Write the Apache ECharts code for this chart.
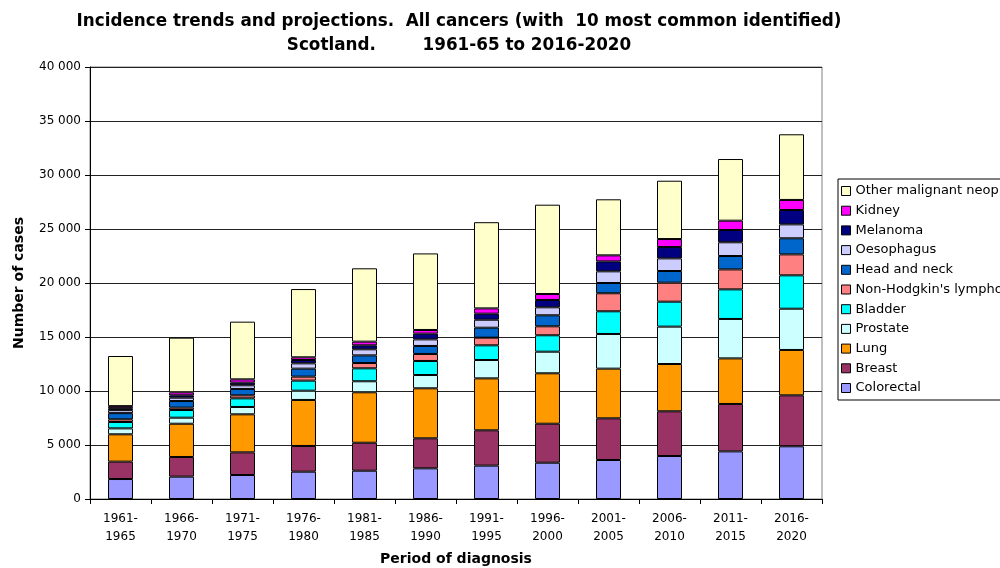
<!DOCTYPE html>
<html>
<head>
<meta charset="utf-8">
<script src="https://cdn.jsdelivr.net/npm/echarts@6/dist/echarts.min.js"></script>
<style>
html,body{margin:0;padding:0;background:#fff;}
#c{width:1000px;height:568px;}
</style>
</head>
<body>
<div id="c"></div>
<script>
const categories = ['1961-\n1965','1966-\n1970','1971-\n1975','1976-\n1980','1981-\n1985','1986-\n1990','1991-\n1995','1996-\n2000','2001-\n2005','2006-\n2010','2011-\n2015','2016-\n2020'];
const colorectal = [1850,2070,2220,2530,2620,2840,3090,3360,3610,3980,4410,4880];
const breast     = [1610,1820,2100,2380,2590,2780,3270,3610,3860,4140,4390,4720];
const lung       = [2530,3080,3520,4260,4670,4630,4810,4670,4600,4380,4220,4200];
const prostate   = [550,560,680,860,1020,1230,1700,2000,3210,3460,3650,3820];
const bladder    = [590,710,800,930,1200,1300,1360,1520,2100,2310,2740,3090];
const nhl        = [250,220,280,370,490,650,710,830,1670,1760,1850,1940];
const headNeck   = [570,610,590,740,710,740,920,1020,950,1080,1240,1490];
const oesophagus = [280,310,340,490,560,610,740,740,1080,1170,1270,1290];
const melanoma   = [180,220,240,310,370,530,560,680,920,1050,1140,1330];
const kidney     = [190,280,310,250,340,340,490,550,560,740,860,930];
const other      = [4640,5060,5340,6320,6790,7090,7980,8270,5190,5400,5710,6080];
const yTicks = [0,5000,10000,15000,20000,25000,30000,35000,40000];

const seriesDefs = [
  ['Colorectal', colorectal, '#9999FF'],
  ['Breast', breast, '#993366'],
  ['Lung', lung, '#FF9900'],
  ['Prostate', prostate, '#CCFFFF'],
  ['Bladder', bladder, '#00FFFF'],
  ["Non-Hodgkin's lymphoma", nhl, '#FF8080'],
  ['Head and neck', headNeck, '#0066CC'],
  ['Oesophagus', oesophagus, '#CCCCFF'],
  ['Melanoma', melanoma, '#000080'],
  ['Kidney', kidney, '#FF00FF'],
  ['Other malignant neoplasms', other, '#FFFFCC']
];

const FONT = '"DejaVu Sans", Verdana, sans-serif';
const chart = echarts.init(document.getElementById('c'), null, {renderer:'canvas'});
chart.setOption({
  animation: false,
  backgroundColor: '#fff',
  title: {
    text: 'Incidence trends and projections.  All cancers (with  10 most common identified)\nScotland.        1961-65 to 2016-2020',
    left: 454, top: 5, textAlign: 'center',
    textStyle: {fontFamily: FONT, fontSize: 16.8, fontWeight: 'bold', color: '#000', lineHeight: 24}
  },
  legend: {
    orient: 'vertical', left: 838, top: 179,
    data: seriesDefs.map(s => s[0]).reverse(),
    itemWidth: 9, itemHeight: 9, itemGap: 5.7,
    padding: [5, 4, 5, 3],
    borderColor: '#000', borderWidth: 1, borderRadius: 0,
    backgroundColor: '#fff',
    icon: 'rect',
    itemStyle: {borderColor: '#000', borderWidth: 1},
    textStyle: {fontFamily: FONT, fontSize: 13, color: '#000', lineHeight: 14}
  },
  grid: {left: 90, right: 178, top: 67, bottom: 69, show: true, borderColor: '#808080', borderWidth: 1, outerBoundsMode: 'none', containLabel: false},
  xAxis: {
    type: 'category', data: categories,
    name: 'Period of diagnosis', nameLocation: 'middle', nameGap: 53,
    nameTextStyle: {fontFamily: FONT, fontSize: 14, fontWeight: 'bold', color: '#000'},
    axisLine: {lineStyle: {color: '#000'}},
    axisTick: {show: true, length: 5, lineStyle: {color: '#000'}},
    axisLabel: {interval: 0, fontFamily: FONT, fontSize: 12, color: '#000', margin: 11, lineHeight: 18}
  },
  yAxis: {
    type: 'value', min: 0, max: 40000, interval: 5000,
    name: 'Number of cases', nameLocation: 'middle', nameGap: 64,
    nameTextStyle: {fontFamily: FONT, fontSize: 14, fontWeight: 'bold', color: '#000'},
    axisLine: {show: true, lineStyle: {color: '#000'}},
    axisTick: {show: true, length: 5, lineStyle: {color: '#000'}},
    axisLabel: {fontFamily: FONT, fontSize: 12, color: '#000', margin: 9,
      formatter: v => yTicks.includes(v) ? (v >= 1000 ? Math.floor(v/1000) + ' ' + String(v%1000).padStart(3,'0') : String(v)) : ''},
    splitLine: {show: true, lineStyle: {color: '#222', width: 1}}
  },
  series: seriesDefs.map(s => ({
    name: s[0], type: 'bar', stack: 'all', data: s[1], barWidth: 25,
    itemStyle: {color: s[2], borderColor: '#000', borderWidth: 1}
  }))
});
</script>
</body>
</html>
